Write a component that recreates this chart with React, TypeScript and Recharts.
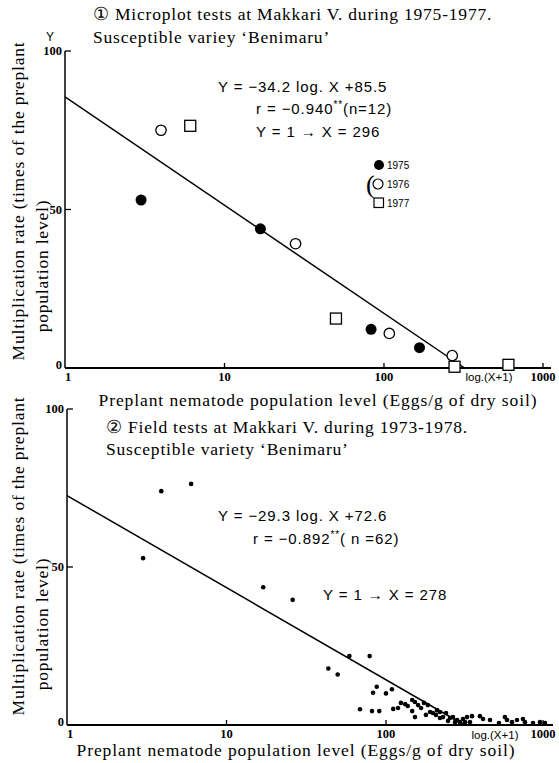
import React from 'react';
import { ScatterChart, Scatter, XAxis, YAxis, Legend } from 'recharts';

// axes
const xTicks = [1, 10, 100, 1000];
const yTicks = [0, 50, 100];
const xDomain = [1, 1115];
const yDomain = [0, 100];

// ① microplot tests, by year
const micro1975 = [
  { x: 3.0, y: 53 },
  { x: 16.8, y: 43.9 },
  { x: 83, y: 12.2 },
  { x: 167, y: 6.4 },
];
const micro1976 = [
  { x: 4.0, y: 75 },
  { x: 27.9, y: 39.2 },
  { x: 108, y: 10.9 },
  { x: 268, y: 3.9 },
];
const micro1977 = [
  { x: 6.1, y: 76.4 },
  { x: 50, y: 15.6 },
  { x: 277, y: 0.4 },
  { x: 603, y: 1.0 },
];
const microFit = [
  { x: 1, y: 85.5 },
  { x: 320, y: 0 },
];

// ② field tests (n = 62)
const fieldPoints: [number, number][] = [
  [3.9, 74], [6.0, 76.3], [3.0, 52.8], [17, 43.6], [26, 39.6],
  [59, 21.8], [79, 21.8], [43.5, 17.9], [49.8, 16.0], [87.5, 12.1],
  [83, 10.2], [100, 10.0], [109, 11.3], [68.7, 5.0], [81.7, 4.4],
  [90.8, 4.4], [111, 5.1], [119, 5.4], [124, 7.0], [132, 6.6],
  [137, 6.0], [146, 7.9], [152, 7.3], [159, 6.3], [166, 5.4],
  [173, 7.0], [183, 6.3], [189, 4.1], [197, 3.8], [206, 3.2],
  [218, 4.1], [228, 2.5], [238, 3.8], [252, 2.2], [263, 2.5],
  [279, 1.6], [291, 0.9], [304, 1.9], [322, 2.5], [346, 2.8],
  [388, 2.8], [406, 1.9], [557, 2.5], [574, 1.6], [663, 1.6],
  [722, 1.9], [744, 0.9], [835, 0.6], [152, 2.5], [146, 4.4],
  [218, 2.2], [245, 1.3], [271, 0.9], [209, 4.7], [178, 3.2],
  [313, 0.9], [336, 0.9], [449, 1.6], [511, 0.6], [617, 0.9],
  [924, 0.9], [993, 0.6],
];
const fieldData = fieldPoints.map(([x, y]) => ({ x, y }));
const fieldFit = [
  { x: 1, y: 72.6 },
  { x: 310, y: 0 },
];

const SERIF = '"Liberation Serif", "Times New Roman", serif';
const SANS = '"Liberation Sans", Arial, sans-serif';

const XTick = (props: any) => {
  const { x, y, payload } = props;
  const v = payload.value;
  return (
    <g>
      {v !== 1 && <line x1={x} y1={y} x2={x} y2={y - 5} stroke="#000" strokeWidth={1.3} />}
      <text
        x={v === 1 ? x + 3 : x}
        y={y + 13}
        textAnchor="middle"
        fontFamily={SERIF}
        fontWeight="bold"
        fontSize={12.5}
        fill="#000"
      >
        {v}
      </text>
    </g>
  );
};

const YTick = (props: any) => {
  const { x, y, payload } = props;
  const v = payload.value;
  return (
    <g>
      {v !== 0 && <line x1={x} y1={y} x2={x + 6} y2={y} stroke="#000" strokeWidth={1.3} />}
      <text
        x={x - 3}
        y={v === 0 ? y - 3 : y}
        textAnchor="end"
        dominantBaseline="central"
        fontFamily={SERIF}
        fontWeight="bold"
        fontSize={12.5}
        fill="#000"
      >
        {v}
      </text>
    </g>
  );
};

const XTitle = ({ cx, cy }: any) => (
  <text x={cx} y={cy} textAnchor="middle" dominantBaseline="central" fontFamily={SERIF} fontSize={17.5} letterSpacing={0.9} fill="#000">
    Preplant nematode population level (Eggs/g of dry soil)
  </text>
);

const YTitle = ({ c1, c2 }: any) => (
  <g fontFamily={SERIF} fontSize={17.5} letterSpacing={0.8} fill="#000">
    <text transform={`translate(18, ${c1}) rotate(-90)`} textAnchor="middle" dominantBaseline="central">
      Multiplication rate (times of the preplant
    </text>
    <text transform={`translate(42, ${c2}) rotate(-90)`} textAnchor="middle" dominantBaseline="central">
      population level)
    </text>
  </g>
);

const FilledDot = (p: any) => <circle cx={p.cx} cy={p.cy} r={5.5} fill="#000" />;
const OpenDot = (p: any) => (
  <circle cx={p.cx} cy={p.cy} r={5.2} fill="#fff" stroke="#000" strokeWidth={1.3} />
);
const OpenSquare = (p: any) => (
  <rect x={p.cx - 5.5} y={p.cy - 5.5} width={11} height={11} fill="#fff" stroke="#000" strokeWidth={1.3} />
);
const SmallDot = (p: any) => <circle cx={p.cx} cy={p.cy} r={2.3} fill="#000" />;
const NoDot = () => <g />;

const MicroLegend = () => (
  <svg width={70} height={56} style={{ overflow: 'visible' }}>
    <text x={6} y={29} fontFamily={SERIF} fontSize={26} dominantBaseline="central" fill="#000">(</text>
    <circle cx={19} cy={10} r={5} fill="#000" />
    <text x={27} y={10} fontFamily={SANS} fontSize={10} dominantBaseline="central" fill="#000">1975</text>
    <circle cx={18} cy={29} r={5} fill="#fff" stroke="#000" strokeWidth={1.2} />
    <text x={27} y={29} fontFamily={SANS} fontSize={10} dominantBaseline="central" fill="#000">1976</text>
    <rect x={14} y={43} width={9.5} height={9.5} fill="#fff" stroke="#000" strokeWidth={1.2} />
    <text x={27} y={48} fontFamily={SANS} fontSize={10} dominantBaseline="central" fill="#000">1977</text>
  </svg>
);

const axisProps = {
  type: 'number' as const,
  stroke: '#000',
  tickSize: 0,
  tickMargin: 0,
};

export default function App() {
  return (
    <div style={{ position: 'absolute', left: 0, top: 0, width: 559, height: 763, background: '#fff' }}>
      {/* ① microplot */}
      <div style={{ position: 'absolute', left: 0, top: 0 }}>
        <ScatterChart width={559} height={415} margin={{ top: 51, right: 8, left: 0, bottom: 0 }}>
          <XAxis
            {...axisProps}
            dataKey="x"
            scale="log"
            domain={xDomain}
            ticks={xTicks}
            allowDataOverflow
            height={47}
            tick={<XTick />}
            axisLine={{ stroke: '#000', strokeWidth: 2 }}
            label={<XTitle cx={318} cy={400} />}
          />
          <YAxis
            {...axisProps}
            dataKey="y"
            domain={yDomain}
            ticks={yTicks}
            width={65}
            tick={<YTick />}
            axisLine={{ stroke: '#000', strokeWidth: 1.5 }}
            label={<YTitle c1={201} c2={266} />}
          />
          <Scatter data={microFit} line={{ stroke: '#000', strokeWidth: 1.5 }} shape={NoDot} legendType="none" isAnimationActive={false} />
          <Scatter name="1975" data={micro1975} shape={FilledDot} isAnimationActive={false} />
          <Scatter name="1976" data={micro1976} shape={OpenDot} isAnimationActive={false} />
          <Scatter name="1977" data={micro1977} shape={OpenSquare} isAnimationActive={false} />
          <Legend
            layout="vertical"
            align="center"
            verticalAlign="middle"
            content={<MicroLegend />}
            wrapperStyle={{ left: 360, top: 155, width: 70, height: 56 }}
          />
        </ScatterChart>
      </div>

      {/* ② field */}
      <div style={{ position: 'absolute', left: 0, top: 395 }}>
        <ScatterChart width={559} height={368} margin={{ top: 14, right: 6, left: 0, bottom: 0 }}>
          <XAxis
            {...axisProps}
            dataKey="x"
            scale="log"
            domain={xDomain}
            ticks={xTicks}
            allowDataOverflow
            height={38}
            tick={<XTick />}
            axisLine={{ stroke: '#000', strokeWidth: 2 }}
            label={<XTitle cx={296} cy={355} />}
          />
          <YAxis
            {...axisProps}
            dataKey="y"
            domain={yDomain}
            ticks={yTicks}
            width={67}
            tick={<YTick />}
            axisLine={{ stroke: '#000', strokeWidth: 1.5 }}
            label={<YTitle c1={161} c2={229} />}
          />
          <Scatter data={fieldFit} line={{ stroke: '#000', strokeWidth: 1.5 }} shape={NoDot} legendType="none" isAnimationActive={false} />
          <Scatter data={fieldData} shape={SmallDot} isAnimationActive={false} />
        </ScatterChart>
      </div>

      {/* titles and regression notes */}
      <svg width={559} height={763} style={{ position: 'absolute', left: 0, top: 0, pointerEvents: 'none', whiteSpace: 'pre' }}>
        <g fontFamily={SERIF} fontSize={17.5} letterSpacing={0.8} fill="#000" dominantBaseline="central">
          <text x={93} y={14}>① Microplot tests at Makkari V. during 1975-1977.</text>
          <text x={93} y={37}>Susceptible variey ‘Benimaru’</text>
          <text x={106} y={427}>② Field tests at Makkari V. during 1973-1978.</text>
          <text x={106} y={449}>Susceptible variety ‘Benimaru’</text>
        </g>
        <g fontFamily={SANS} fontSize={15} letterSpacing={0.9} fill="#000" dominantBaseline="central">
          <text x={218} y={86}>Y = −34.2 log.  X +85.5</text>
          <text x={256} y={108}>
            r = −0.940<tspan fontSize={10} dy={-4}>**</tspan>
            <tspan dy={4}>(n=12)</tspan>
          </text>
          <text x={256} y={131}>Y =  1 → X = 296</text>
          <text x={218} y={515}>Y = −29.3 log.  X +72.6</text>
          <text x={253} y={538}>
            r = −0.892<tspan fontSize={10} dy={-4}>**</tspan>
            <tspan dy={4}>( n =62)</tspan>
          </text>
          <text x={323} y={594}>Y =  1 → X = 278</text>
        </g>
        <g fontFamily={SANS} fontSize={11.5} fill="#000" dominantBaseline="central" textAnchor="middle">
          <text x={50} y={37} fontSize={12}>Y</text>
          <text x={489} y={377}>log.(X+1)</text>
          <text x={495} y={735}>log.(X+1)</text>
        </g>
      </svg>
    </div>
  );
}
